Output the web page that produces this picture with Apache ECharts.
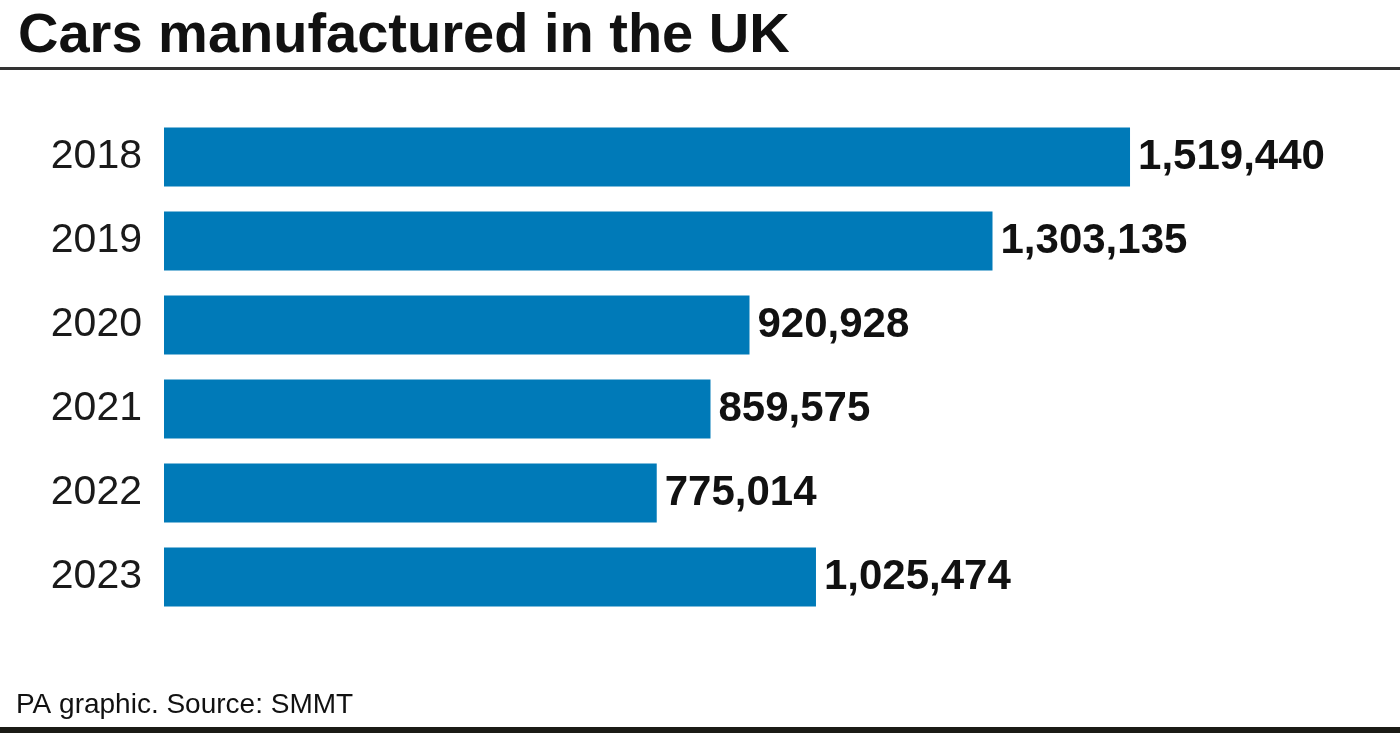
<!DOCTYPE html>
<html>
<head>
<meta charset="utf-8">
<script src="https://cdn.jsdelivr.net/npm/echarts@6/dist/echarts.min.js"></script>
<style>
html,body{margin:0;padding:0;background:#fff;}
#c{width:1400px;height:733px;}
</style>
</head>
<body>
<div id="c"></div>
<script>
const titleText = "Cars manufactured in the UK";
const footerText = "PA graphic. Source: SMMT";
const years = ["2018", "2019", "2020", "2021", "2022", "2023"];
const cars = [1519440, 1303135, 920928, 859575, 775014, 1025474];

const FONT = "'Liberation Sans', Arial, sans-serif";
const chart = echarts.init(document.getElementById('c'), null, {renderer: 'canvas'});
chart.setOption({
  backgroundColor: '#ffffff',
  animation: false,
  title: {
    text: titleText,
    left: 13,
    top: 4,
    textStyle: {fontFamily: FONT, fontSize: 56, fontWeight: 'bold', color: '#111111'}
  },
  graphic: [
    {type: 'rect', shape: {x: 0, y: 67, width: 1400, height: 3}, style: {fill: '#333333'}},
    {type: 'rect', shape: {x: 0, y: 727, width: 1400, height: 6}, style: {fill: '#1b1b16'}},
    {type: 'text', left: 16, top: 691, style: {text: footerText, font: '28px ' + FONT, fill: '#111111'}}
  ],
  grid: {left: 164, right: 91.6, top: 115, bottom: 114, containLabel: false},
  xAxis: {
    type: 'value', min: 0, max: 1800000,
    show: false, splitLine: {show: false}
  },
  yAxis: {
    type: 'category', data: years, inverse: true,
    axisLine: {show: false}, axisTick: {show: false},
    axisLabel: {fontFamily: FONT, fontSize: 41, color: '#1a1a1a', margin: 22}
  },
  series: [{
    type: 'bar',
    data: cars,
    barWidth: 59,
    itemStyle: {color: '#007ab8'},
    label: {
      show: true, position: 'right', distance: 8,
      fontFamily: FONT, fontSize: 42, fontWeight: 'bold', color: '#111111',
      formatter: p => p.value.toLocaleString('en-US')
    }
  }]
});
</script>
</body>
</html>
